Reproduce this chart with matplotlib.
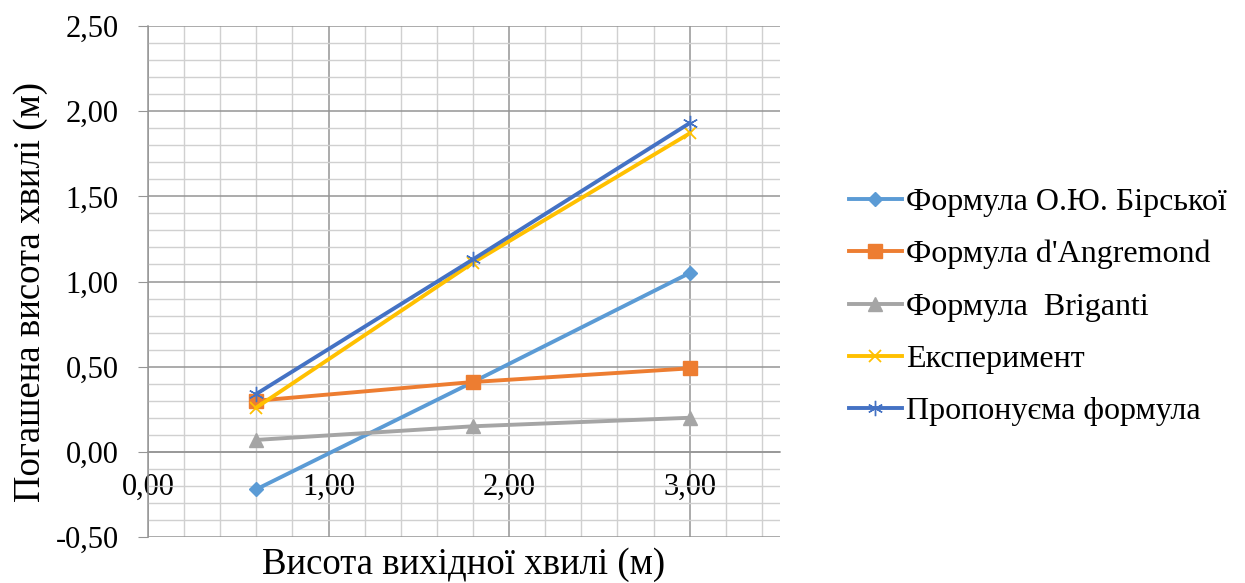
import matplotlib
matplotlib.use("Agg")
import matplotlib.pyplot as plt
from matplotlib.ticker import MultipleLocator, FuncFormatter

# Wave heights (m) and transmitted wave heights for each method
wave_height = [0.6, 1.8, 3.0]
birska = [-0.22, 0.41, 1.05]
angremond = [0.30, 0.41, 0.49]
briganti = [0.07, 0.15, 0.20]
experiment = [0.26, 1.11, 1.87]
proposed = [0.34, 1.13, 1.93]

series_names = [
    "Формула О.Ю. Бірської",
    "Формула d'Angremond",
    "Формула  Briganti",
    "Експеримент",
    "Пропонуєма формула",
]
x_label = "Висота вихідної хвилі (м)"
y_label = "Погашена висота хвилі (м)"

plt.rcParams["font.family"] = ["Liberation Serif", "DejaVu Serif"]

fig = plt.figure(figsize=(12.45, 5.83), dpi=100)
ax = fig.add_axes([148 / 1245, 1 - 537 / 583, (780 - 148) / 1245, (537 - 26) / 583])

styles = [
    dict(color="#5B9BD5", marker="D", markersize=7.5),
    dict(color="#ED7D31", marker="s", markersize=9.5),
    dict(color="#A5A5A5", marker="^", markersize=10.5),
    dict(color="#FFC000", marker="x", markersize=9, markeredgewidth=1.3),
    dict(color="#4472C4", marker=(6, 2, 0), markersize=11, markeredgewidth=1.0),
]
values = [birska, angremond, briganti, experiment, proposed]
for name, vals, st in zip(series_names, values, styles):
    ax.plot(wave_height, vals, label=name, linewidth=2.8, zorder=3, **st)

ax.set_xlim(0, 3.5)
ax.set_ylim(-0.5, 2.5)
ax.xaxis.set_major_locator(MultipleLocator(1.0))
ax.xaxis.set_minor_locator(MultipleLocator(0.2))
ax.yaxis.set_major_locator(MultipleLocator(0.5))
ax.yaxis.set_minor_locator(MultipleLocator(0.1))

fmt = FuncFormatter(lambda v, p: f"{v:.2f}".replace(".", ","))
ax.xaxis.set_major_formatter(fmt)
ax.yaxis.set_major_formatter(fmt)

major_c = "#959595"
minor_c = "#D0D0D0"
ax.grid(which="major", color=major_c, linewidth=1.1, zorder=1)
ax.grid(which="minor", color=minor_c, linewidth=1.0, zorder=0)
ax.set_axisbelow(True)

for s in ("top", "right"):
    ax.spines[s].set_visible(False)
ax.spines["left"].set_color(major_c)
ax.spines["left"].set_linewidth(1.1)
ax.spines["bottom"].set_position(("data", 0))
ax.spines["bottom"].set_color(major_c)
ax.spines["bottom"].set_linewidth(1.1)

ax.tick_params(axis="y", which="major", length=7, color=major_c, labelsize=22, pad=14)
ax.tick_params(axis="y", which="minor", length=0)
ax.tick_params(axis="x", which="both", length=0, labelsize=22, pad=15)

fig.text(464 / 1245, 1 - 565 / 583, x_label, fontsize=26.5, ha="center", va="center")
fig.text(31 / 1245, 1 - 292 / 583, y_label, fontsize=26.5, ha="center", va="center",
         rotation=90)

fig.legend(loc="center left", bbox_to_anchor=(849 / 1245, 1 - 307 / 583),
           frameon=False, fontsize=23, borderpad=0, borderaxespad=0,
           handlelength=1.65, handletextpad=0.15, labelspacing=0.72)

fig.savefig("out.png", dpi=100)
